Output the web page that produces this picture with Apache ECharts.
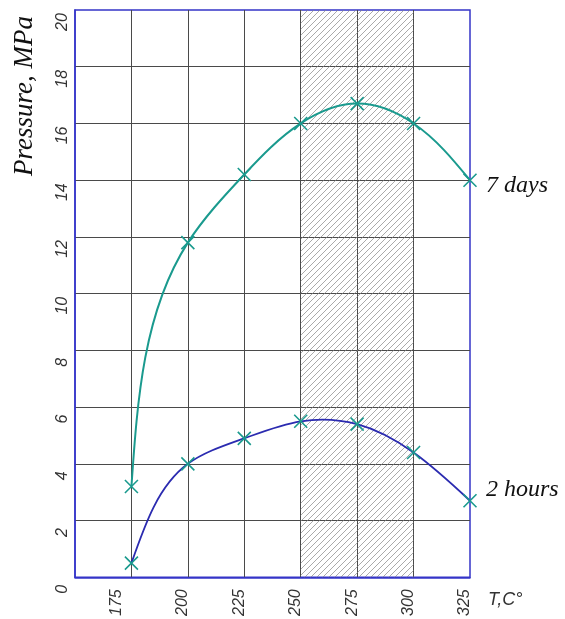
<!DOCTYPE html>
<html><head><meta charset="utf-8">
<script src="https://cdn.jsdelivr.net/npm/echarts@6/dist/echarts.min.js"></script>
<style>html,body{margin:0;padding:0;background:#fff}#c{width:565px;height:619px}</style>
</head><body><div id="c"></div>
<script>
const temps = [175, 200, 225, 250, 275, 300, 325];
const days7 = [3.2, 11.8, 14.2, 16.0, 16.7, 16.0, 14.0];
const hours2 = [0.5, 4.0, 4.9, 5.5, 5.4, 4.4, 2.7];
const hatchRange = [250, 300];
const seriesNames = ['7 days', '2 hours'];

// diagonal hatch pattern
const pc = document.createElement('canvas');
pc.width = 6; pc.height = 6;
const g = pc.getContext('2d');
g.strokeStyle = '#858585'; g.lineWidth = 0.7;
g.beginPath();
g.moveTo(-1, 7); g.lineTo(7, -1);
g.moveTo(-4, 4); g.lineTo(4, -4);
g.moveTo(2, 10); g.lineTo(10, 2);
g.stroke();

// natural parametric cubic spline (chord-length) through pixel points -> SVG path
function splinePath(pts) {
  const n = pts.length;
  const h = [];
  for (let i = 0; i < n - 1; i++) h.push(Math.hypot(pts[i + 1][0] - pts[i][0], pts[i + 1][1] - pts[i][1]) || 1);
  const solve = (k) => {
    const a = new Array(n).fill(0), b = new Array(n).fill(0), c = new Array(n).fill(0), d = new Array(n).fill(0);
    b[0] = 2; c[0] = 1; d[0] = 3 * (pts[1][k] - pts[0][k]) / h[0];
    for (let i = 1; i < n - 1; i++) {
      a[i] = h[i]; b[i] = 2 * (h[i - 1] + h[i]); c[i] = h[i - 1];
      d[i] = 3 * (h[i] * (pts[i][k] - pts[i - 1][k]) / h[i - 1] + h[i - 1] * (pts[i + 1][k] - pts[i][k]) / h[i]);
    }
    a[n - 1] = 1; b[n - 1] = 2; d[n - 1] = 3 * (pts[n - 1][k] - pts[n - 2][k]) / h[n - 2];
    for (let i = 1; i < n; i++) {
      const w = a[i] / b[i - 1];
      b[i] -= w * c[i - 1]; d[i] -= w * d[i - 1];
    }
    const m = new Array(n);
    m[n - 1] = d[n - 1] / b[n - 1];
    for (let i = n - 2; i >= 0; i--) m[i] = (d[i] - c[i] * m[i + 1]) / b[i];
    return m;
  };
  const mx = solve(0), my = solve(1);
  let s = 'M' + pts[0][0] + ' ' + pts[0][1];
  for (let i = 0; i < n - 1; i++) {
    const c1x = pts[i][0] + mx[i] * h[i] / 3, c1y = pts[i][1] + my[i] * h[i] / 3;
    const c2x = pts[i + 1][0] - mx[i + 1] * h[i] / 3, c2y = pts[i + 1][1] - my[i + 1] * h[i] / 3;
    s += ' C' + c1x + ' ' + c1y + ' ' + c2x + ' ' + c2y + ' ' + pts[i + 1][0] + ' ' + pts[i + 1][1];
  }
  return s;
}

function curveSeries(values, color, width) {
  return {
    type: 'custom', silent: true, z: 2,
    data: [0],
    renderItem: (params, api) => {
      const pts = temps.map((t, i) => api.coord([t, values[i]]));
      return {type: 'path', shape: {pathData: splinePath(pts)}, style: {fill: 'none', stroke: color, lineWidth: width}};
    }
  };
}

const xSym = 'path://M0,0L10,10M10,0L0,10';
const chart = echarts.init(document.getElementById('c'));
const lblFont = {fontFamily: 'Liberation Sans Narrow, Liberation Sans, sans-serif', fontStyle: 'italic', fontSize: 16, color: '#333'};
const endFont = {fontFamily: 'Liberation Serif, serif', fontStyle: 'italic', fontSize: 24, color: '#111'};
chart.setOption({
  animation: false,
  grid: {left: 75, right: 95, top: 10, bottom: 41, show: true, borderColor: '#3535c8', borderWidth: 1.5, containLabel: false},
  xAxis: {
    type: 'value', min: 150, max: 325, interval: 25,
    name: 'T,C°', nameLocation: 'end', nameGap: 18,
    nameTextStyle: Object.assign({}, lblFont, {fontSize: 18, verticalAlign: 'top', padding: [14, 0, 0, 0]}),
    axisLine: {show: true, lineStyle: {color: '#3535c8', width: 1.5}},
    axisTick: {show: false},
    splitLine: {show: true, showMinLine: false, showMaxLine: false, lineStyle: {color: '#4a4a4a', width: 1}},
    axisLabel: Object.assign({}, lblFont, {
      rotate: 90, margin: 12,
      formatter: v => v === 150 ? '' : (v === 175 ? '{f|175}' : '{n|' + v + '}'),
      rich: {
        f: Object.assign({}, lblFont, {padding: [0, 0, 30, 0]}),
        n: Object.assign({}, lblFont, {padding: [0, 0, 10, 0]})
      }
    })
  },
  yAxis: {
    type: 'value', min: 0, max: 20, interval: 2,
    axisLine: {show: true, lineStyle: {color: '#3535c8', width: 1.5}},
    axisTick: {show: false},
    splitLine: {show: true, showMinLine: false, showMaxLine: false, lineStyle: {color: '#4a4a4a', width: 1}},
    axisLabel: Object.assign({}, lblFont, {rotate: 90, margin: 4, padding: [0, 24, 0, 0]})
  },
  graphic: [{
    type: 'text', x: 25, y: 176, rotation: Math.PI / 2,
    style: {text: 'Pressure, MPa', font: 'italic 27px "Liberation Serif", serif', fill: '#111', textAlign: 'left', textVerticalAlign: 'middle'}
  }],
  series: [
    curveSeries(days7, '#1a9a8e', 2),
    curveSeries(hours2, '#2b2bb0', 1.8),
    {
      name: seriesNames[0], type: 'line',
      data: temps.map((t, i) => [t, days7[i]]),
      symbol: xSym, symbolSize: 13,
      itemStyle: {color: '#1a9a8e', borderColor: '#1a9a8e', borderWidth: 1.6},
      lineStyle: {width: 0, opacity: 0},
      endLabel: Object.assign({show: true, formatter: '{a}', offset: [8, 5]}, endFont),
      markArea: {
        silent: true,
        itemStyle: {color: {image: pc, repeat: 'repeat'}, borderWidth: 0},
        data: [[{xAxis: hatchRange[0], yAxis: 0}, {xAxis: hatchRange[1], yAxis: 20}]]
      },
      z: 3
    },
    {
      name: seriesNames[1], type: 'line',
      data: temps.map((t, i) => [t, hours2[i]]),
      symbol: xSym, symbolSize: 13,
      itemStyle: {color: '#1a9a8e', borderColor: '#1a9a8e', borderWidth: 1.6},
      lineStyle: {width: 0, opacity: 0},
      endLabel: Object.assign({show: true, formatter: '{a}', offset: [8, -11]}, endFont),
      z: 3
    }
  ]
});
</script></body></html>
